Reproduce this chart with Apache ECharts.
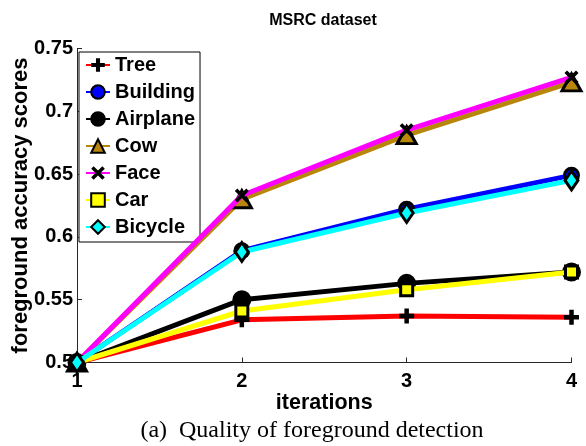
<!DOCTYPE html>
<html>
<head>
<meta charset="utf-8">
<script src="https://cdn.jsdelivr.net/npm/echarts@6/dist/echarts.min.js"></script>
<style>
  html, body { margin: 0; padding: 0; background: #fff; }
  #chart { width: 586px; height: 446px; }
</style>
</head>
<body>
<div id="chart"></div>
<script>
// Foreground accuracy per iteration, MSRC classes
const iterations = [1, 2, 3, 4];
const seriesNames = ['Tree', 'Building', 'Airplane', 'Cow', 'Face', 'Car', 'Bicycle'];
const tree     = [0.500, 0.534, 0.537, 0.536];
const building = [0.500, 0.589, 0.622, 0.649];
const airplane = [0.500, 0.550, 0.563, 0.572];
const cow      = [0.500, 0.630, 0.681, 0.723];
const face     = [0.500, 0.633, 0.685, 0.727];
const car      = [0.500, 0.541, 0.558, 0.572];
const bicycle  = [0.500, 0.588, 0.619, 0.645];
const yTicks = [0.5, 0.55, 0.6, 0.65, 0.7, 0.75];

const values = [tree, building, airplane, cow, face, car, bicycle];
const lineColors = ['#ff0000', '#0000ff', '#000000', '#b8860b', '#ff00ff', '#ffff00', '#00ffff'];

const PLUS = 'path://M3.5,0h3v3.5h3.5v3h-3.5v3.5h-3v-3.5h-3.5v-3h3.5z';
const CROSS = 'path://M1.8,0L5,3.2L8.2,0L10,1.8L6.8,5L10,8.2L8.2,10L5,6.8L1.8,10L0,8.2L3.2,5L0,1.8z';

const markers = [
  { symbol: PLUS, size: 15, solid: true },
  { symbol: 'circle', size: 14 },
  { symbol: 'circle', size: 16 },
  { symbol: 'triangle', size: [19, 17] },
  { symbol: CROSS, size: 14, solid: true },
  { symbol: 'rect', size: 12 },
  { symbol: 'diamond', size: [13, 19] }
];

const series = seriesNames.map((name, i) => ({
  name: name,
  type: 'line',
  data: iterations.map((x, k) => [x, values[i][k]]),
  symbol: markers[i].symbol,
  symbolSize: markers[i].size,
  showAllSymbol: true,
  lineStyle: { color: lineColors[i], width: 5 },
  itemStyle: markers[i].solid
    ? { color: '#000', borderWidth: 0 }
    : { color: lineColors[i], borderColor: '#000', borderWidth: 3 },
  emphasis: { disabled: true },
  animation: false,
  z: 2 + i
}));

const chart = echarts.init(document.getElementById('chart'), null, { renderer: 'canvas' });
chart.setOption({
  animation: false,
  backgroundColor: '#fff',
  title: {
    text: 'MSRC dataset',
    left: 318,
    textAlign: 'center',
    top: 8,
    textStyle: { fontFamily: 'Liberation Sans', fontWeight: 'bold', fontSize: 16, color: '#000' }
  },
  grid: { left: 77, right: 14.5, top: 48.5, bottom: 83.5, outerBoundsMode: 'none' },
  legend: {
    orient: 'vertical',
    left: 79,
    top: 52,
    padding: [3, 5, 5, 6],
    itemGap: 7,
    itemWidth: 24,
    itemHeight: 17,
    backgroundColor: '#fff',
    borderColor: '#000',
    borderWidth: 1,
    textStyle: { fontFamily: 'Liberation Sans', fontWeight: 'bold', fontSize: 20, color: '#000' },
    data: seriesNames
  },
  xAxis: {
    type: 'value',
    min: 1,
    max: 4,
    interval: 1,
    name: 'iterations',
    nameLocation: 'middle',
    nameGap: 30,
    nameMoveOverlap: false,
    nameTextStyle: { fontFamily: 'Liberation Sans', fontWeight: 'bold', fontSize: 21.5, color: '#000' },
    axisLine: { lineStyle: { color: '#262626', width: 1 } },
    axisTick: { inside: true, length: 5, lineStyle: { color: '#262626' } },
    axisLabel: { fontFamily: 'Liberation Sans', fontWeight: 'bold', fontSize: 20, color: '#000', margin: 9 },
    splitLine: { show: false }
  },
  yAxis: {
    type: 'value',
    min: 0.5,
    max: 0.75,
    interval: 0.05,
    name: 'foreground accuracy scores',
    nameLocation: 'middle',
    nameGap: 45,
    nameMoveOverlap: false,
    nameTextStyle: { fontFamily: 'Liberation Sans', fontWeight: 'bold', fontSize: 22, color: '#000' },
    axisLine: { show: true, lineStyle: { color: '#262626', width: 1 } },
    axisTick: { show: true, inside: true, length: 5, lineStyle: { color: '#262626' } },
    axisLabel: {
      fontFamily: 'Liberation Sans', fontWeight: 'bold', fontSize: 20, color: '#000', margin: 4,
      formatter: v => {
        const t = yTicks.find(y => Math.abs(y - v) < 1e-9);
        return t === undefined ? '' : String(t);
      }
    },
    splitLine: { show: false }
  },
  graphic: [{
    type: 'text',
    x: 312,
    y: 419,
    style: {
      text: '(a)  Quality of foreground detection',
      fontFamily: 'Liberation Serif',
      fontSize: 24,
      fill: '#000',
      align: 'center',
      verticalAlign: 'top'
    }
  }],
  series: series
});
</script>
</body>
</html>
